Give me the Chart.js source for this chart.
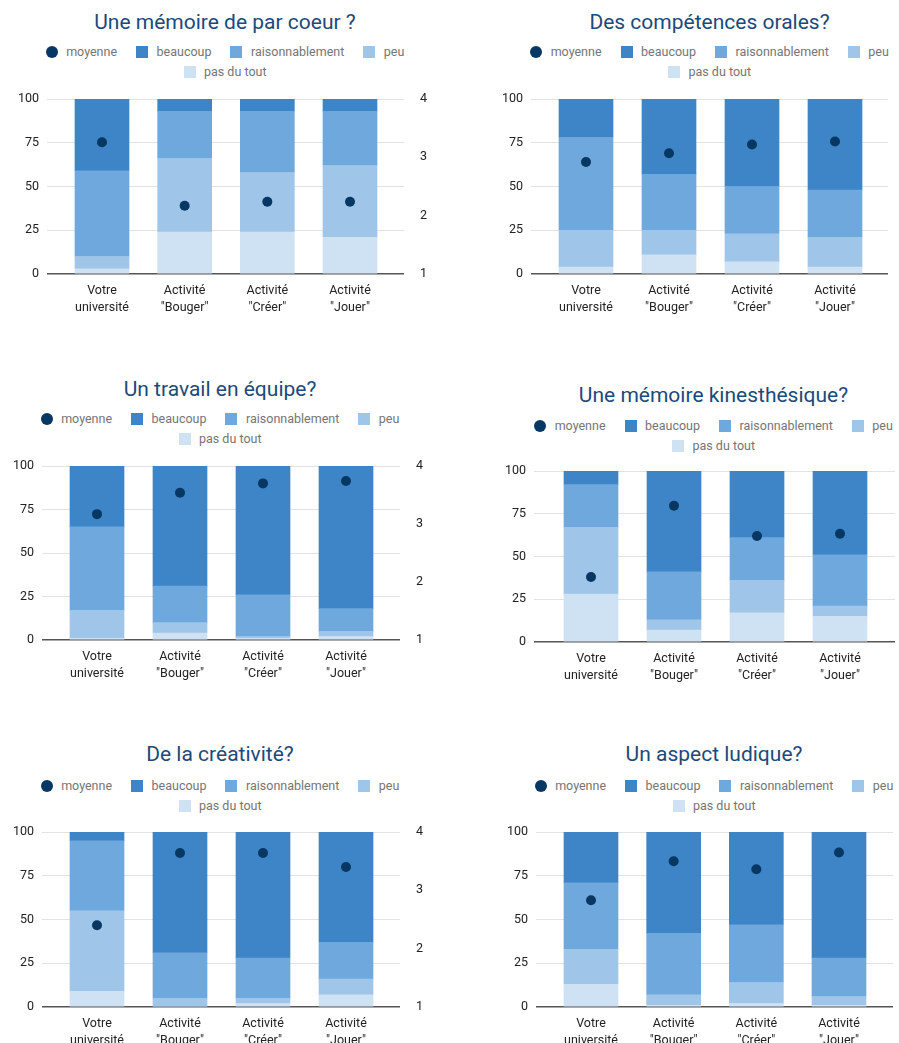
<!DOCTYPE html>
<html><head><meta charset="utf-8">
<script src="https://cdn.jsdelivr.net/npm/chart.js@4.4.1/dist/chart.umd.min.js"></script>
<style>
html,body{margin:0;padding:0;width:899px;height:1043px;overflow:hidden;background:#fff;font-family:Roboto,sans-serif;}
.ptitle{position:absolute;width:460px;text-align:center;font-size:21px;line-height:24px;color:#1b4a7a;white-space:nowrap;}
.legend{position:absolute;width:380px;display:flex;flex-wrap:wrap;justify-content:center;column-gap:19px;font-size:12.5px;line-height:20px;color:#757575;}
.legend .item{display:flex;align-items:center;white-space:nowrap;}
.legend .mk{width:12px;height:12px;margin-right:8.5px;flex:none;}
.legend .dot{border-radius:50%;}
canvas{position:absolute;}
</style></head><body>
<script>
// ---------- content ----------
const categories = ['Votre université','Activité "Bouger"','Activité "Créer"','Activité "Jouer"'];
const tickLabels = [['Votre','université'],['Activité','"Bouger"'],['Activité','"Créer"'],['Activité','"Jouer"']];
const seriesNames = ['moyenne','beaucoup','raisonnablement','peu','pas du tout'];
const leftTicks = [0,25,50,75,100];
const rightTicks = [1,2,3,4];
const titles = ['Une mémoire de par coeur ?','Des compétences orales?','Un travail en équipe?','Une mémoire kinesthésique?','De la créativité?','Un aspect ludique?'];

// Une mémoire de par coeur ?
const coeurPasDuTout = [3,24,24,21];
const coeurPeu       = [7,42,34,41];
const coeurRaison    = [49,27,35,31];
const coeurBeaucoup  = [41,7,7,7];
const coeurMoyenne   = [3.26,2.17,2.24,2.24];
// Des compétences orales?
const oralPasDuTout = [4,11,7,4];
const oralPeu       = [21,14,16,17];
const oralRaison    = [53,32,27,27];
const oralBeaucoup  = [22,43,50,52];
const oralMoyenne   = [2.92,3.07,3.22,3.27];
// Un travail en équipe?
const equipePasDuTout = [1,4,1,2];
const equipePeu       = [16,6,1,3];
const equipeRaison    = [48,21,24,13];
const equipeBeaucoup  = [35,69,74,82];
const equipeMoyenne   = [3.17,3.54,3.70,3.74];
// Une mémoire kinesthésique?
const kinePasDuTout = [28,7,17,15];
const kinePeu       = [39,6,19,6];
const kineRaison    = [25,28,25,30];
const kineBeaucoup  = [8,59,39,49];
const kineMoyenne   = [2.14,3.39,2.86,2.90];
// De la créativité?
const creaPasDuTout = [9,0,2,7];
const creaPeu       = [46,5,3,9];
const creaRaison    = [40,26,23,21];
const creaBeaucoup  = [5,69,72,63];
const creaMoyenne   = [2.40,3.64,3.64,3.40];
// Un aspect ludique?
const ludiPasDuTout = [13,1,2,1];
const ludiPeu       = [20,6,12,5];
const ludiRaison    = [38,35,33,22];
const ludiBeaucoup  = [29,58,53,72];
const ludiMoyenne   = [2.83,3.50,3.36,3.65];

// ---------- styling / layout ----------
const colors = {moyenne:'#073763', beaucoup:'#3d85c6', raisonnablement:'#6fa8dc', peu:'#9fc5e8', 'pas du tout':'#cfe2f3'};
const layouts = [
  {L:47,R:404,T:99,B:274,c0:102,c3:350,cx:225,titleBase:29,legendMid:52},
  {L:531,R:888,T:99,B:274,c0:586,c3:835,cx:709.5,titleBase:29,legendMid:52},
  {L:42,R:400,T:466,B:640,c0:97,c3:346,cx:220,titleBase:396,legendMid:419},
  {L:534,R:895,T:471,B:642,c0:591,c3:840,cx:713.5,titleBase:402,legendMid:426},
  {L:42,R:400,T:832,B:1007,c0:97,c3:346,cx:220,titleBase:761,legendMid:786},
  {L:536,R:893,T:832,B:1007,c0:591,c3:839,cx:714,titleBase:761,legendMid:786}
];
const panels = [
  {pas:coeurPasDuTout, peu:coeurPeu, rais:coeurRaison, beau:coeurBeaucoup, moy:coeurMoyenne},
  {pas:oralPasDuTout, peu:oralPeu, rais:oralRaison, beau:oralBeaucoup, moy:oralMoyenne},
  {pas:equipePasDuTout, peu:equipePeu, rais:equipeRaison, beau:equipeBeaucoup, moy:equipeMoyenne},
  {pas:kinePasDuTout, peu:kinePeu, rais:kineRaison, beau:kineBeaucoup, moy:kineMoyenne},
  {pas:creaPasDuTout, peu:creaPeu, rais:creaRaison, beau:creaBeaucoup, moy:creaMoyenne},
  {pas:ludiPasDuTout, peu:ludiPeu, rais:ludiRaison, beau:ludiBeaucoup, moy:ludiMoyenne}
];

const AXL = 47, AXR = 50, PADT = 20, AXB = 50;
const FONT = 'Roboto';

function pts(arr){ return arr.map((v,i)=>({x:i, y:v})); }

panels.forEach((p, k) => {
  const g = layouts[k];
  // title
  const t = document.createElement('div');
  t.className = 'ptitle';
  t.textContent = titles[k];
  t.style.left = (g.cx - 230) + 'px';
  t.style.top = (g.titleBase - 19.2) + 'px';
  document.body.appendChild(t);
  // legend
  const lg = document.createElement('div');
  lg.className = 'legend';
  lg.style.left = (g.cx - 190) + 'px';
  lg.style.top = (g.legendMid - 10) + 'px';
  seriesNames.forEach((n, i) => {
    const it = document.createElement('div'); it.className = 'item';
    const mk = document.createElement('span'); mk.className = 'mk' + (i === 0 ? ' dot' : '');
    mk.style.background = colors[n];
    const tx = document.createElement('span'); tx.textContent = n;
    it.appendChild(mk); it.appendChild(tx); lg.appendChild(it);
  });
  document.body.appendChild(lg);
  // canvas
  const cv = document.createElement('canvas');
  const W = g.R - g.L + AXL + AXR, H = g.B - g.T + PADT + AXB;
  cv.width = W; cv.height = H;
  cv.style.width = W + 'px'; cv.style.height = H + 'px';
  cv.style.left = (g.L - AXL) + 'px';
  cv.style.top = (g.T - PADT) + 'px';
  document.body.appendChild(cv);

  const s = (g.c3 - g.c0) / 3;
  const xMin = -(g.c0 - g.L) / s;
  const xMax = 3 + (g.R - g.c3) / s;
  const barDs = (label, arr) => ({type:'bar', label, data: pts(arr), backgroundColor: colors[label], borderWidth:0, barThickness:54, yAxisID:'y', order:1});

  new Chart(cv, {
    data: {
      datasets: [
        {type:'line', label:seriesNames[0], data: pts(p.moy), yAxisID:'y2', showLine:false,
         pointRadius:5, pointHoverRadius:5, pointBackgroundColor:colors.moyenne, pointBorderWidth:0, order:0},
        barDs('pas du tout', p.pas),
        barDs('peu', p.peu),
        barDs('raisonnablement', p.rais),
        barDs('beaucoup', p.beau)
      ]
    },
    options: {
      responsive:false, animation:false, devicePixelRatio:1,
      layout:{padding:{top:PADT, left:0, right:0, bottom:0}},
      plugins:{legend:{display:false}, title:{display:false}, tooltip:{enabled:false}},
      scales:{
        x:{type:'linear', stacked:true, offset:false, min:xMin, max:xMax,
           afterBuildTicks:(sc)=>{ sc.ticks = categories.map((c,i)=>({value:i})); },
           afterFit:(sc)=>{ sc.height = AXB; },
           grid:{display:false, offset:false}, border:{display:false},
           ticks:{autoSkip:false, maxRotation:0, padding:1, color:'#222',
                  font:{family:FONT, size:12.5, lineHeight:1.3},
                  callback:(v)=>tickLabels[v]}},
        y:{type:'linear', position:'left', stacked:true, min:0, max:100,
           afterBuildTicks:(sc)=>{ sc.ticks = leftTicks.map(v=>({value:v})); },
           afterFit:(sc)=>{ sc.width = AXL; },
           border:{display:false},
           grid:{drawTicks:false,
                 color:(c)=> (c.tick && c.tick.value === 0) ? '#555555' : '#e2e2e2',
                 lineWidth:(c)=> (c.tick && c.tick.value === 0) ? 1.5 : 1},
           ticks:{padding:8, color:'#222', font:{family:FONT, size:12.5}}},
        y2:{type:'linear', position:'right', min:1, max:4,
           afterBuildTicks:(sc)=>{ sc.ticks = rightTicks.map(v=>({value:v})); },
           afterFit:(sc)=>{ sc.width = AXR; },
           border:{display:false}, grid:{display:false, drawOnChartArea:false},
           ticks:{padding:8, color:'#222', font:{family:FONT, size:12.5}}}
      }
    }
  });
});
</script>
</body></html>
